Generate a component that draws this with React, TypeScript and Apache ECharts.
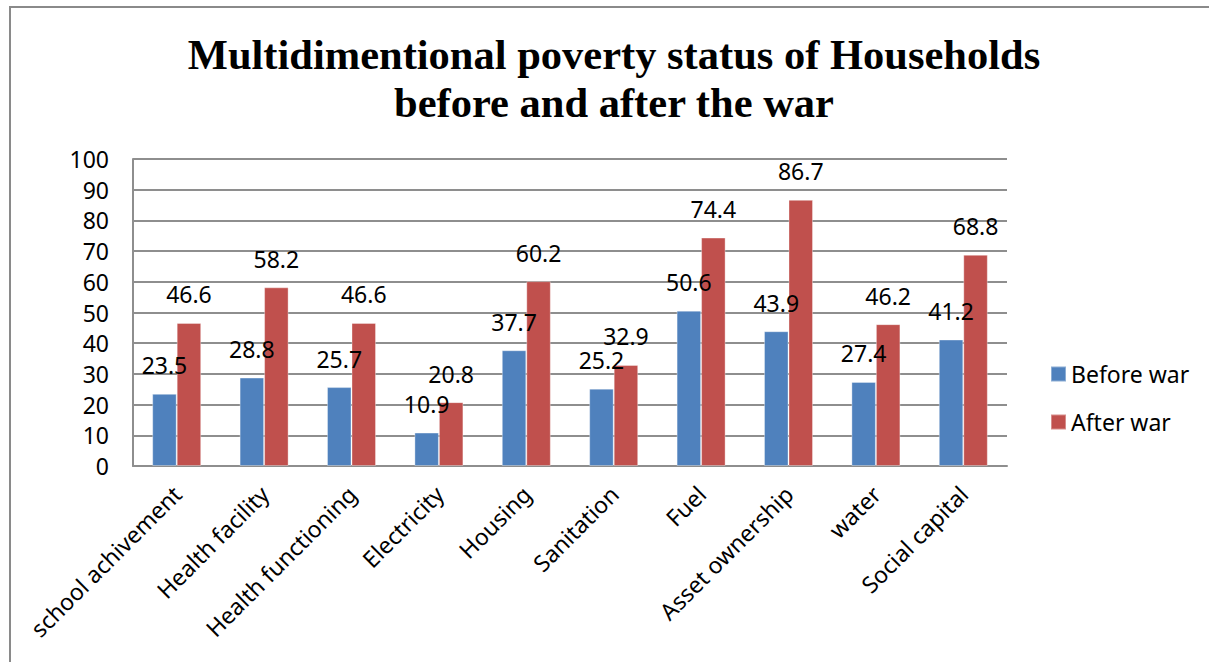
import React, { useEffect, useRef } from "react";
import * as echarts from "echarts";

const categories = [
  "school achivement",
  "Health facility",
  "Health functioning",
  "Electricity",
  "Housing",
  "Sanitation",
  "Fuel",
  "Asset ownership",
  "water",
  "Social capital",
];
const beforeWar = [23.5, 28.8, 25.7, 10.9, 37.7, 25.2, 50.6, 43.9, 27.4, 41.2];
const afterWar = [46.6, 58.2, 46.6, 20.8, 60.2, 32.9, 74.4, 86.7, 46.2, 68.8];
const seriesNames = ["Before war", "After war"];
const titleText = "Multidimentional poverty status of Households\nbefore and after the war";

const SANS = "'Noto Sans', 'Open Sans', sans-serif";
const GRID_COLOR = "#8e8e8e";

export default function App() {
  const ref = useRef<HTMLDivElement>(null);
  useEffect(() => {
    document.body.style.margin = "0";
    const chart = echarts.init(ref.current!, null, { renderer: "svg" });
    const labelStyle = {
      show: true,
      position: "top" as const,
      distance: 18,
      fontSize: 23,
      lineHeight: 21,
      fontFamily: SANS,
      color: "#000",
    };
    chart.setOption({
      animation: false,
      backgroundColor: "#fff",
      title: {
        text: titleText,
        left: 614,
        textAlign: "center",
        top: 30,
        padding: 0,
        textStyle: {
          fontFamily: "'Liberation Serif', 'Times New Roman', serif",
          fontWeight: "bold",
          fontSize: 42.5,
          lineHeight: 48,
          color: "#000",
        },
      },
      graphic: [
        {
          type: "rect",
          shape: { x: 10, y: 7, width: 1250, height: 700 },
          style: { fill: "none", stroke: "#8a8a8a", lineWidth: 2 },
          silent: true,
        },
      ],
      legend: {
        orient: "vertical",
        left: 1050,
        top: 361,
        padding: 0,
        itemWidth: 15,
        itemHeight: 15,
        itemGap: 22,
        icon: "rect",
        textStyle: { fontSize: 23, fontFamily: SANS, color: "#000", lineHeight: 26 },
        data: seriesNames,
      },
      grid: { left: 133, right: 202, top: 159, bottom: 196 },
      xAxis: {
        type: "category",
        data: categories,
        axisLine: { lineStyle: { color: GRID_COLOR, width: 2 } },
        axisTick: { show: false },
        axisLabel: {
          rotate: 45,
          interval: 0,
          margin: 8,
          padding: [0, 11, 0, 0],
          fontSize: 23,
          fontFamily: SANS,
          color: "#000",
          align: "right",
          verticalAlign: "top",
          lineHeight: 23,
        },
      },
      yAxis: {
        type: "value",
        min: 0,
        max: 100,
        interval: 10,
        axisLine: { show: true, lineStyle: { color: GRID_COLOR, width: 2 } },
        axisTick: { show: false },
        splitLine: { lineStyle: { color: GRID_COLOR, width: 2 } },
        axisLabel: { margin: 24, fontSize: 23, fontFamily: SANS, color: "#000" },
      },
      series: [
        {
          name: seriesNames[0],
          type: "bar",
          data: beforeWar,
          barWidth: 24.5,
          barGap: "0%",
          itemStyle: { color: "#4F81BD", borderColor: "rgba(255,255,255,0.35)", borderWidth: 1 },
          label: labelStyle,
        },
        {
          name: seriesNames[1],
          type: "bar",
          data: afterWar,
          barWidth: 24.5,
          barGap: "0%",
          itemStyle: { color: "#C0504D", borderColor: "rgba(255,255,255,0.35)", borderWidth: 1 },
          label: labelStyle,
        },
      ],
    });
    return () => chart.dispose();
  }, []);
  return <div ref={ref} style={{ width: 1209, height: 662 }} />;
}
